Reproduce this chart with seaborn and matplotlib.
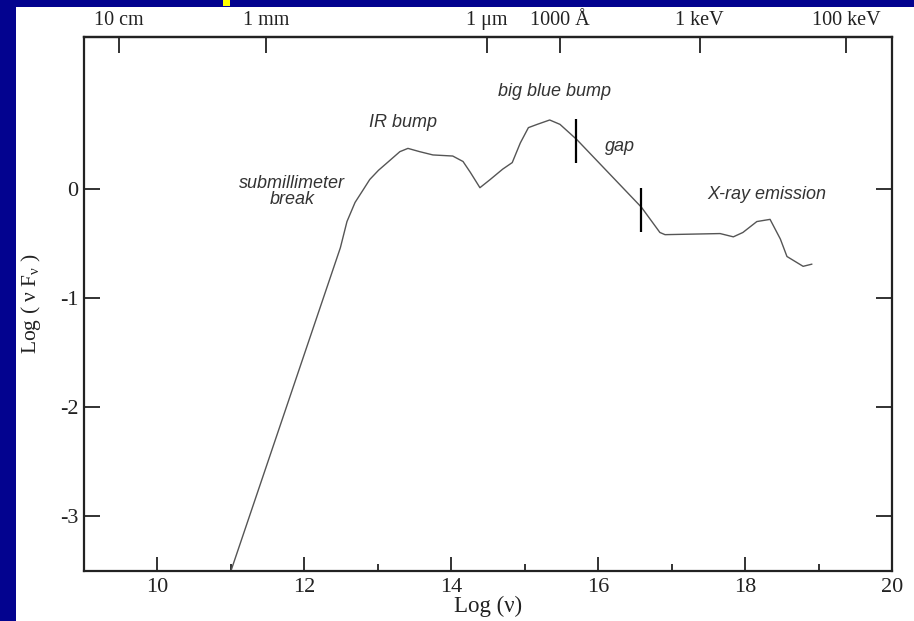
import matplotlib
matplotlib.use("Agg")
import matplotlib.pyplot as plt
import seaborn as sns
import pandas as pd
from matplotlib.patches import Rectangle

# ---- data ----
log_nu = [11.00, 12.49, 12.58, 12.69, 12.80, 12.89, 13.01, 13.13, 13.30, 13.41, 13.57, 13.75,
          14.02, 14.16, 14.26, 14.39, 14.53, 14.70, 14.83, 14.94, 15.05, 15.17,
          15.34, 15.48, 15.71, 16.59, 16.84, 16.91, 17.66, 17.84, 17.97, 18.16,
          18.34, 18.48, 18.57, 18.79, 18.91]
log_nufnu = [-3.50, -0.54, -0.30, -0.125, -0.01, 0.085, 0.17, 0.24, 0.34, 0.37, 0.34, 0.31,
             0.30, 0.25, 0.15, 0.01, 0.085, 0.18, 0.24, 0.42, 0.56, 0.59,
             0.63, 0.59, 0.45, -0.17, -0.40, -0.42, -0.41, -0.44, -0.40, -0.30,
             -0.28, -0.46, -0.62, -0.71, -0.69]

gap_x = [15.70, 16.58]
gap_ylo = [0.24, -0.40]
gap_yhi = [0.64, 0.01]

top_ticks = [9.48, 11.48, 14.48, 15.48, 17.38, 19.38]
top_labels = ["10 cm", "1 mm", "1 \u03bcm", "1000 \u00c5", "1 keV", "100 keV"]

x_ticks = [10, 12, 14, 16, 18, 20]
y_ticks = [0, -1, -2, -3]

notes = ["submillimeter\nbreak", "IR bump", "big blue bump", "gap", "X-ray emission"]
notes_x = [11.83, 13.34, 15.41, 16.30, 18.30]
notes_y = [-0.025, 0.605, 0.89, 0.386, -0.05]

# ---- style ----
sns.set_style("ticks")
plt.rcParams["font.family"] = ["Liberation Serif", "DejaVu Serif"]
plt.rcParams["mathtext.fontset"] = "custom"
plt.rcParams["mathtext.rm"] = "Liberation Serif"
plt.rcParams["mathtext.it"] = "Liberation Serif:italic"

fig = plt.figure(figsize=(9.14, 6.21), dpi=100)
fig.patch.set_facecolor("#03038f")
# white slide panel
fig.patches.append(Rectangle((16 / 914, 0), 1 - 16 / 914, (621 - 7) / 621,
                             transform=fig.transFigure, facecolor="white",
                             edgecolor="none", zorder=-10))
# small yellow fragment of cut-off title
fig.patches.append(Rectangle((223 / 914, 1 - 6 / 621), 7 / 914, 6 / 621,
                             transform=fig.transFigure, facecolor="#ffff00",
                             edgecolor="none", zorder=-10))

ax = fig.add_axes([84 / 914, (621 - 571) / 621, (892 - 84) / 914, (571 - 37) / 621])
ax.set_facecolor("white")

df = pd.DataFrame({"log_nu": log_nu, "log_nufnu": log_nufnu})
sns.lineplot(data=df, x="log_nu", y="log_nufnu", sort=False, estimator=None,
             color="#555555", lw=1.0, ax=ax)

ax.vlines(gap_x, gap_ylo, gap_yhi, color="black", lw=1.6)

ax.set_xlim(9, 20)
ax.set_ylim(-3.5, 1.39)

for s in ax.spines.values():
    s.set_linewidth(1.6)
    s.set_color("#222222")
    s.set_visible(True)

ax.set_xticks(x_ticks)
ax.set_xticklabels([str(v) for v in x_ticks])
ax.set_xticks([11, 13, 15, 17, 19], minor=True)
ax.set_yticks(y_ticks)
ax.set_yticklabels([str(v) for v in y_ticks])
ax.tick_params(axis="x", which="major", direction="in", length=10, width=1.3,
               labelsize=16, pad=5, colors="#222222")
ax.tick_params(axis="x", which="minor", direction="in", length=5, width=1.3,
               colors="#222222")
ax.tick_params(axis="y", which="major", direction="in", length=11.5, width=1.3,
               labelsize=16, right=True, pad=4, colors="#222222")

ax.set_xlabel("Log (\u03bd)", fontsize=16.5, labelpad=-1, color="#222222")
ax.set_ylabel(r"Log ( $\mathregular{\nu}$ F$_\mathregular{\nu}$ )", fontsize=15.5,
              labelpad=12, color="#222222")

top = ax.secondary_xaxis("top")
top.set_xticks(top_ticks)
top.set_xticklabels(top_labels)
top.tick_params(axis="x", direction="in", length=11.5, width=1.3, labelsize=14.5,
                pad=5, colors="#222222")
top.spines["top"].set_linewidth(1.6)

for t, x, y in zip(notes, notes_x, notes_y):
    ax.text(x, y, t, family=["Liberation Sans", "DejaVu Sans"], style="italic",
            fontsize=13, ha="center", va="center", color="#333333",
            linespacing=0.95)

fig.savefig("out.png", dpi=100, facecolor=fig.get_facecolor())
